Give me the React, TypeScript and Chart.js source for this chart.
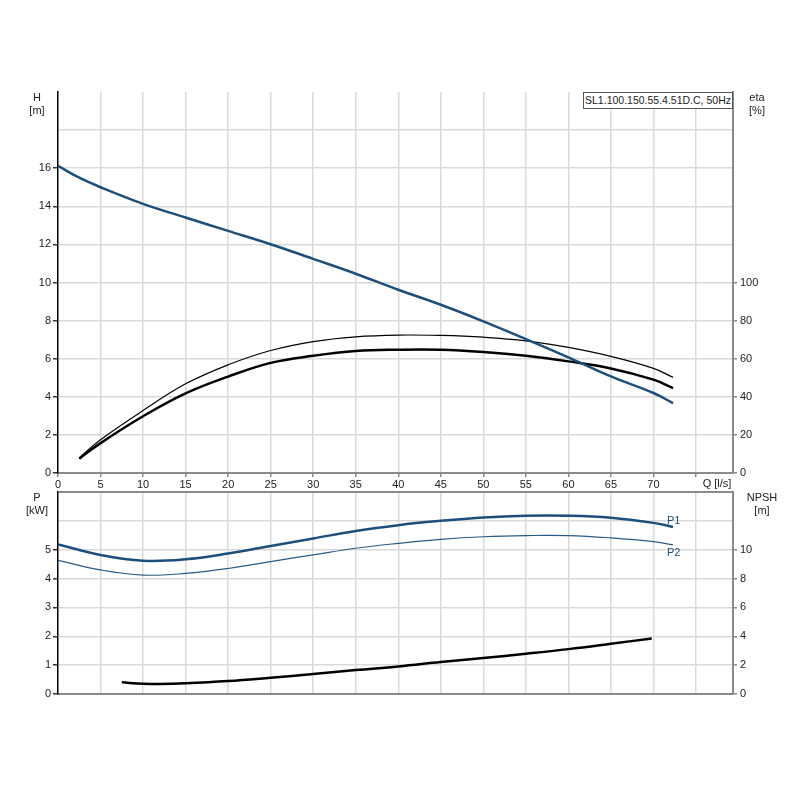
import { Chart, registerables } from "chart.js";
import { useEffect, useRef } from "react";

Chart.register(...registerables);

// Q axis (l/s)
const qHead = [0, 2.5, 5, 10, 15, 20, 25, 30, 35, 40, 45, 50, 55, 60, 65, 70, 72.3];
const head = [16.12, 15.5, 15.0, 14.13, 13.41, 12.71, 12.01, 11.24, 10.46, 9.62, 8.83, 7.96, 7.03, 6.07, 5.07, 4.2, 3.67];

const qEta = [2.5, 5, 10, 15, 20, 25, 30, 35, 40, 45, 50, 55, 60, 65, 70, 72.3];
const etaHyd = [8, 17.5, 32.8, 46.8, 56.8, 64.3, 69, 71.5, 72.4, 72.2, 71.3, 69.4, 65.9, 61.2, 54.9, 50.2];
const etaTot = [7.5, 15.7, 29.8, 41.8, 50.6, 57.8, 61.5, 64, 64.7, 64.7, 63.5, 61.5, 58.6, 54.9, 49, 44.6];

const qPower = [0, 5, 10, 15, 20, 25, 30, 35, 40, 45, 50, 55, 60, 65, 70, 72.3];
const p1 = [5.18, 4.82, 4.62, 4.67, 4.87, 5.13, 5.39, 5.65, 5.85, 6.0, 6.12, 6.18, 6.18, 6.11, 5.93, 5.79];
const p2 = [4.63, 4.3, 4.12, 4.18, 4.35, 4.59, 4.82, 5.05, 5.22, 5.36, 5.45, 5.49, 5.49, 5.41, 5.28, 5.17];

const qNpsh = [7.5, 10, 12, 15, 20, 25, 30, 35, 40, 45, 50, 55, 60, 65, 69.8];
const npsh = [0.81, 0.71, 0.69, 0.74, 0.9, 1.13, 1.38, 1.66, 1.91, 2.21, 2.49, 2.79, 3.11, 3.48, 3.85];

const BLUE = "#1d4f7c";
const GRID = "#d9d9d9";
const AXIS_GRAY = "#8a8a8a";
const FONT = { family: "'Liberation Sans', Arial, sans-serif", size: 11 };

const pts = (xs: number[], ys: number[]) => xs.map((x, i) => ({ x, y: ys[i] }));

const fixWidth = (w: number) => (scale: any) => {
  scale.width = w;
};
const fixHeight = (h: number) => (scale: any) => {
  scale.height = h;
};

const qScale = (showLabels: boolean) => ({
  type: "linear" as const,
  min: 0,
  max: 79.35,
  afterFit: fixHeight(showLabels ? 17 : 106),
  ticks: {
    stepSize: 5,
    includeBounds: false,
    display: showLabels,
    font: FONT,
    color: "#222",
    padding: 1,
    maxRotation: 0,
    autoSkip: false,
    callback: (v: any) => (Number(v) <= 70 ? String(v) : ""),
  },
  grid: {
    color: (c: any) => (c.tick && c.tick.value === 0 ? "rgba(0,0,0,0)" : GRID),
    lineWidth: 1.5,
    drawTicks: showLabels,
    tickLength: 4,
    tickColor: AXIS_GRAY,
  },
  border: { color: AXIS_GRAY, width: 2 },
});

const pLabels = {
  id: "pLabels",
  afterDatasetsDraw(chart: any) {
    const ctx = chart.ctx;
    chart.data.datasets.forEach((ds: any, i: number) => {
      if (!ds.endLabel) return;
      const meta = chart.getDatasetMeta(i);
      const last = meta.data[meta.data.length - 1];
      if (!last) return;
      ctx.save();
      ctx.font = "11px 'Liberation Sans', Arial, sans-serif";
      ctx.fillStyle = BLUE;
      ctx.textAlign = "left";
      ctx.textBaseline = "middle";
      ctx.fillText(ds.endLabel, last.x - 6, last.y + ds.endOffset);
      ctx.restore();
    });
  },
};

export default function App() {
  const topRef = useRef<HTMLCanvasElement>(null);
  const botRef = useRef<HTMLCanvasElement>(null);

  useEffect(() => {
    if (!topRef.current || !botRef.current) return;

    const top = new Chart(topRef.current, {
      type: "line",
      data: {
        datasets: [
          {
            label: "H",
            data: pts(qHead, head),
            borderColor: BLUE,
            borderWidth: 2.5,
            yAxisID: "h",
          },
          {
            label: "eta hyd",
            data: pts(qEta, etaHyd),
            borderColor: "#000",
            borderWidth: 1.2,
            yAxisID: "eta",
          },
          {
            label: "eta",
            data: pts(qEta, etaTot),
            borderColor: "#000",
            borderWidth: 2.5,
            yAxisID: "eta",
          },
        ],
      },
      options: {
        responsive: false,
        animation: false,
        layout: { padding: { top: 92, left: 0, right: 0, bottom: 0 } },
        elements: {
          point: { radius: 0 },
          line: { tension: 0.4, fill: false },
        },
        plugins: { legend: { display: false }, tooltip: { enabled: false } },
        scales: {
          x: qScale(true),
          h: {
            type: "linear",
            position: "left",
            min: 0,
            max: 20,
            afterFit: fixWidth(58),
            ticks: {
              stepSize: 2,
              font: FONT,
              color: "#222",
              padding: 2,
              callback: (v: any) => (Number(v) <= 16 ? String(v) : ""),
            },
            grid: {
              color: (c: any) =>
                c.tick && (c.tick.value === 20 || c.tick.value === 0) ? "rgba(0,0,0,0)" : GRID,
              lineWidth: 1.5,
              tickLength: 5,
              tickColor: (c: any) => (c.tick && c.tick.value <= 16 ? "#333" : "rgba(0,0,0,0)"),
            },
            border: { color: "#000", width: 1.5 },
          },
          eta: {
            type: "linear",
            position: "right",
            min: 0,
            max: 200,
            afterFit: fixWidth(65),
            ticks: {
              stepSize: 20,
              font: FONT,
              color: "#222",
              padding: 3,
              callback: (v: any) => (Number(v) <= 100 ? String(v) : ""),
            },
            grid: {
              drawOnChartArea: false,
              tickLength: 4,
              lineWidth: 1.5,
              tickColor: (c: any) => (c.tick && c.tick.value <= 100 ? AXIS_GRAY : "rgba(0,0,0,0)"),
            },
            border: { color: AXIS_GRAY, width: 2 },
          },
        },
      },
    });

    const bottom = new Chart(botRef.current, {
      type: "line",
      data: {
        datasets: [
          {
            label: "P1",
            data: pts(qPower, p1),
            borderColor: BLUE,
            borderWidth: 2.5,
            yAxisID: "p",
            endLabel: "P1",
            endOffset: -6,
          } as any,
          {
            label: "P2",
            data: pts(qPower, p2),
            borderColor: "#2a5b88",
            borderWidth: 1.2,
            yAxisID: "p",
            endLabel: "P2",
            endOffset: 8,
          } as any,
          {
            label: "NPSH",
            data: pts(qNpsh, npsh),
            borderColor: "#000",
            borderWidth: 2.5,
            yAxisID: "npsh",
          },
        ],
      },
      options: {
        responsive: false,
        animation: false,
        layout: { padding: { top: 12, left: 0, right: 0, bottom: 0 } },
        elements: {
          point: { radius: 0 },
          line: { tension: 0.4, fill: false },
        },
        plugins: { legend: { display: false }, tooltip: { enabled: false } },
        scales: {
          x: qScale(false),
          p: {
            type: "linear",
            position: "left",
            min: 0,
            max: 7,
            afterFit: fixWidth(58),
            ticks: {
              stepSize: 1,
              font: FONT,
              color: "#222",
              padding: 2,
              callback: (v: any) => (Number(v) <= 5 ? String(v) : ""),
            },
            grid: {
              color: (c: any) =>
                c.tick && c.tick.value === 7 ? AXIS_GRAY : c.tick && c.tick.value === 0 ? "rgba(0,0,0,0)" : GRID,
              lineWidth: (c: any) => (c.tick && c.tick.value === 7 ? 2 : 1.5),
              tickLength: 5,
              tickColor: (c: any) => (c.tick && c.tick.value <= 5 ? "#333" : "rgba(0,0,0,0)"),
            },
            border: { color: "#000", width: 1.5 },
          },
          npsh: {
            type: "linear",
            position: "right",
            min: 0,
            max: 14,
            afterFit: fixWidth(65),
            ticks: {
              stepSize: 2,
              font: FONT,
              color: "#222",
              padding: 3,
              callback: (v: any) => (Number(v) <= 10 ? String(v) : ""),
            },
            grid: {
              drawOnChartArea: false,
              tickLength: 4,
              lineWidth: 1.5,
              tickColor: (c: any) => (c.tick && c.tick.value <= 10 ? AXIS_GRAY : "rgba(0,0,0,0)"),
            },
            border: { color: AXIS_GRAY, width: 2 },
          },
        },
      },
      plugins: [pLabels],
    });

    return () => {
      top.destroy();
      bottom.destroy();
    };
  }, []);

  const label = (left: number, topPx: number, width: number, lines: string[]) => (
    <div
      style={{
        position: "absolute",
        left,
        top: topPx,
        width,
        textAlign: "center",
        font: "11px 'Liberation Sans', Arial, sans-serif",
        lineHeight: "13px",
        color: "#222",
      }}
    >
      {lines.map((l, i) => (
        <div key={i}>{l}</div>
      ))}
    </div>
  );

  return (
    <div style={{ position: "absolute", left: 0, top: 0, width: 798, height: 800, background: "#fff" }}>
      <canvas ref={topRef} width={798} height={490} style={{ position: "absolute", left: 0, top: 0 }} />
      <canvas ref={botRef} width={798} height={320} style={{ position: "absolute", left: 0, top: 480 }} />
      {label(17, 91, 40, ["H", "[m]"])}
      {label(737, 91, 40, ["eta", "[%]"])}
      {label(17, 491, 40, ["P", "[kW]"])}
      {label(737, 491, 50, ["NPSH", "[m]"])}
      {label(690, 477, 54, ["Q [l/s]"])}
      <div
        style={{
          position: "absolute",
          left: 583,
          top: 92,
          width: 148,
          height: 15,
          border: "1px solid #555",
          background: "#fff",
          textAlign: "center",
          font: "10.5px 'Liberation Sans', Arial, sans-serif",
          lineHeight: "15px",
          color: "#222",
          whiteSpace: "nowrap",
        }}
      >
        SL1.100.150.55.4.51D.C, 50Hz
      </div>
    </div>
  );
}
